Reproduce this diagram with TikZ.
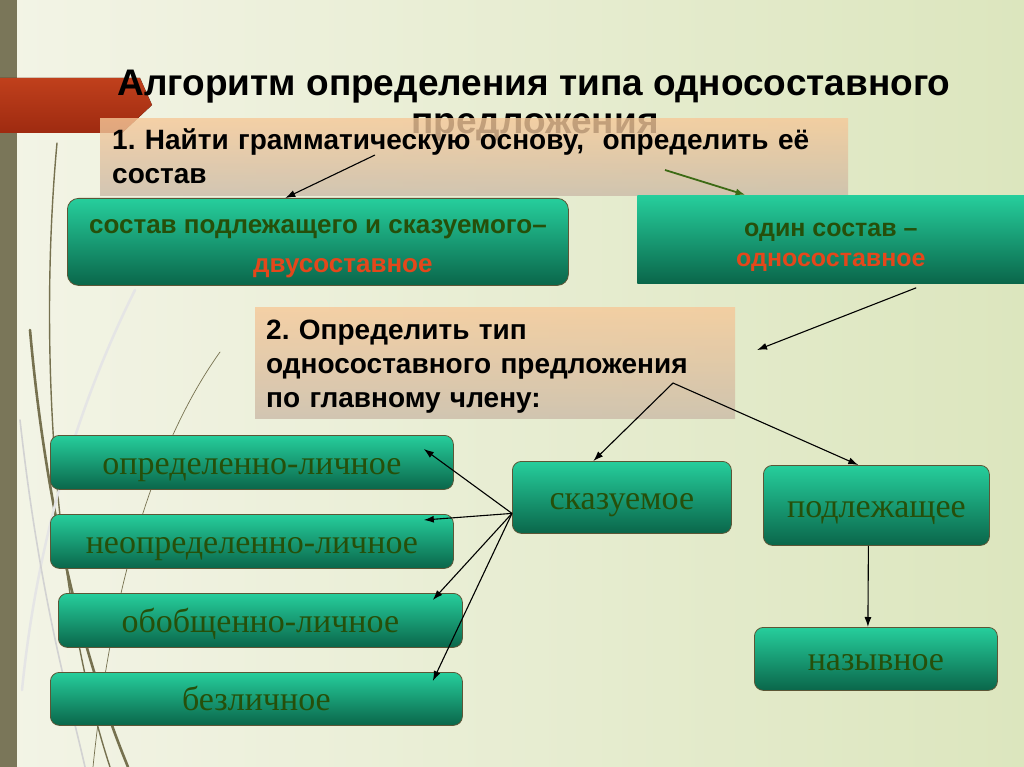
\documentclass[tikz,border=0pt]{standalone}
\usepackage{fontspec}
\setmainfont{Liberation Serif}
\newfontfamily\headfont{Liberation Sans}
\usetikzlibrary{arrows.meta,calc}
\frenchspacing

\definecolor{fonl}{HTML}{F3F4E6}
\definecolor{fonr}{HTML}{DCE6BE}
\definecolor{polosa}{HTML}{7A7659}
\definecolor{krasn}{HTML}{C0401C}
\definecolor{krasnt}{HTML}{9E2A10}
\definecolor{bejt}{HTML}{F6C898}
\definecolor{bejb}{HTML}{CBBBA8}
\definecolor{zelt}{HTML}{26CE9C}
\definecolor{zelb}{HTML}{0A664A}
\definecolor{kontur}{HTML}{5C5636}
\definecolor{tzel}{HTML}{264F0A}
\definecolor{tkras}{HTML}{E4471B}
\definecolor{strzel}{HTML}{3C6A14}
\definecolor{liniya}{HTML}{76714F}

\begin{document}
\begin{tikzpicture}[
		x=1pt, y=-1pt,
		tanbox/.style={top color=bejt, bottom color=bejb, fill opacity=0.8, text opacity=1,
			inner xsep=12pt, align=left, anchor=north west,
			font=\headfont\bfseries\fontsize{28}{34}\selectfont},
		greenbox/.style={draw=kontur, line width=0.8pt, rounded corners=9pt,
			top color=zelt, bottom color=zelb, anchor=north west, inner sep=0pt,
			text=tzel, text height=24pt, text depth=0pt, font=\fontsize{34}{38}\selectfont},
		boldgreen/.style={greenbox, align=center, text height=, text depth=,
			font=\headfont\bfseries\fontsize{26}{39}\selectfont},
		deco/.style={liniya, line cap=round},
		strelka/.style={-{Latex[length=10pt,width=7pt]}, line width=1.1pt},
		line join=round
		]
		
		% ---- фон ----
		\useasboundingbox (0,0) rectangle (1024,767);
		\fill[left color=fonl, right color=fonr] (0,0) rectangle (1024,767);
		\fill[polosa] (0,0) rectangle (17,767);
		
		% ---- линии слева ----
		\draw[deco, line width=2.6pt] (30,330) .. controls (45,500) and (80,650) .. (128,767);
		\draw[deco, line width=1.4pt] (57,143) .. controls (38,350) and (55,600) .. (110,767);
		\draw[deco, line width=0.7pt] (220,352) .. controls (150,450) and (110,600) .. (93,767);
		\draw[deco, gray!20, line width=2.5pt] (135,290) .. controls (70,420) and (35,560) .. (22,690);
		\draw[deco, gray!35, line width=1.6pt] (20,420) .. controls (40,600) and (70,700) .. (85,767);
		
		% ---- красная стрелка ----
		\fill[top color=krasn, bottom color=krasnt] (0,78) -- (140,78) -- (152,105) -- (122,133) -- (0,133) -- cycle;
		
		% ---- заголовок ----
		\node[font=\headfont\bfseries\fontsize{37}{42}\selectfont] (zag1) at (534,87) {Алгоритм определения типа односоставного};
		\node[font=\headfont\bfseries\fontsize{37}{42}\selectfont] (zag2) at (535,127) {предложения};
		
		% ---- шаги ----
		\node[tanbox, text width=724pt, minimum height=77pt] (shag1) at (100,118)
			{1. Найти грамматическую основу,~ определить её\\состав};
		\node[tanbox, text width=458pt, inner xsep=11pt, minimum height=111pt] (shag2) at (255,307)
			{\rule{0pt}{28pt}2. Определить тип\\односоставного предложения\\по главному члену:};
		
		% ---- состав ----
		\node[boldgreen, rounded corners=11pt, minimum width=501pt, minimum height=87pt] (dvu) at (67,198)
			{\rule{0pt}{28pt}состав подлежащего и сказуемого–\\\hspace*{50pt}\textcolor{tkras}{двусоставное}};
		\node[boldgreen, sharp corners, draw=none, font=\headfont\bfseries\fontsize{25}{30}\selectfont,
			minimum width=387pt, minimum height=88pt] (odin) at (637,195)
			{\rule{0pt}{30pt}один состав –\\\textcolor{tkras}{односоставное}};
		
		% ---- типы ----
		\node[greenbox, minimum width=403pt, minimum height=54pt] (opr) at (50,435) {определенно-личное};
		\node[greenbox, minimum width=403pt, minimum height=54pt] (neopr) at (50,514) {неопределенно-личное};
		\node[greenbox, minimum width=404pt, minimum height=54pt] (obob) at (58,593) {обобщенно-личное};
		\node[greenbox, minimum width=412pt, minimum height=53pt] (bezl) at (50,672) {безличное};
		
		\node[greenbox, minimum width=219pt, minimum height=72pt] (skaz) at (512,461) {сказуемое};
		\node[greenbox, minimum width=226pt, minimum height=80pt] (podl) at (763,465) {подлежащее};
		\node[greenbox, minimum width=243pt, minimum height=63pt] (nazyv) at (754,627) {назывное};
		
		% ---- стрелки ----
		\coordinate (s1) at (375,155);
		\coordinate (s2) at (665,170);
		\coordinate (s3) at (757,350);
		\coordinate (s4) at (673,383);
		\coordinate (s5) at ($(skaz.west)+(0,16)$);
		
		\draw[strelka] (s1) -- ($(dvu.north west)!0.435!(dvu.north east)$);
		\draw[strelka, strzel, line width=1.8pt] (s2) -- ($(odin.north west)!0.28!(odin.north east)$);
		\draw[strelka] ($(odin.south west)!0.72!(odin.south east)+(0,4)$) -- (s3);
		
		\draw[strelka] (s4) -- ($(skaz.north west)!0.37!(skaz.north east)$);
		\draw[strelka] (s4) -- ($(podl.north west)!0.42!(podl.north east)$);
		
		\draw[strelka] (s5) -- ($(opr.north east)+(-30,14)$);
		\draw[strelka] (s5) -- ($(neopr.north east)+(-30,6)$);
		\draw[strelka] (s5) -- ($(obob.north east)+(-30,7)$);
		\draw[strelka] (s5) -- ($(bezl.north east)+(-30,9)$);
		
		\draw[strelka] ($(podl.south)+(-8,0)$) -- ($(nazyv.north)+(-8,0)$);
	\end{tikzpicture}
\end{document}
